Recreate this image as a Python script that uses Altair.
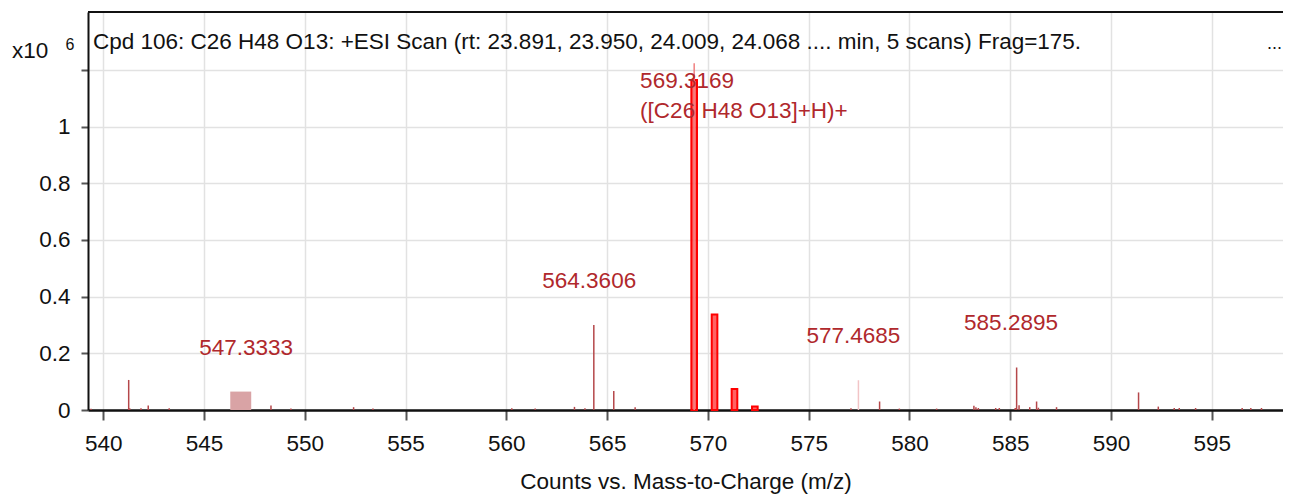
import altair as alt
import pandas as pd

FONT = "Liberation Sans"

# ---- data ----
peak_mz = [539.39, 541.26, 541.31, 541.87, 542.23, 543.27, 548.32, 549.31, 552.42, 553.38,
           560.27, 561.43, 563.38, 563.90, 564.34, 565.33, 566.39, 577.10, 578.52, 579.50,
           581.35, 583.20, 583.30, 583.42, 584.28, 584.46, 585.25, 585.32, 585.44, 585.97,
           586.31, 586.40, 587.30, 591.37, 592.35, 593.14, 593.39, 594.20, 596.51, 596.94, 597.47]
peak_int = [0.004, 0.106, 0.006, 0.006, 0.016, 0.006, 0.016, 0.005, 0.010, 0.005,
            0.006, 0.005, 0.011, 0.006, 0.300, 0.067, 0.010, 0.006, 0.030, 0.005,
            0.005, 0.015, 0.010, 0.007, 0.007, 0.007, 0.007, 0.150, 0.017, 0.010,
            0.030, 0.008, 0.010, 0.062, 0.012, 0.007, 0.007, 0.007, 0.007, 0.007, 0.007]

light_mz = [577.47]
light_int = [0.105]

iso_mz = [569.32, 570.33, 571.32, 572.33]
iso_int = [1.165, 0.337, 0.074, 0.012]
iso_halfwidth = 0.14

main_mz = [569.32]
main_int = [1.224]

region_start = [546.30]
region_end = [547.34]
region_int = [0.065]

label_mz = [547.3333, 564.3606, 577.4685, 585.2895]
label_int = [0.065, 0.300, 0.105, 0.150]
label_text = ["547.3333", "564.3606", "577.4685", "585.2895"]

main_label = ["569.3169", "([C26 H48 O13]+H)+"]

x_ticks = [540, 545, 550, 555, 560, 565, 570, 575, 580, 585, 590, 595]
y_ticks = [0, 0.2, 0.4, 0.6, 0.8, 1, 1.2]

title_text = "Cpd 106: C26 H48 O13: +ESI Scan (rt: 23.891, 23.950, 24.009, 24.068 .... min, 5 scans) Frag=175."

W, H = 1195, 398
X_DOM = [539.241, 539.241 + W / 20.153]
Y_DOM = [0, 1.4046]

xs = alt.Scale(domain=X_DOM, nice=False, zero=False)
ys = alt.Scale(domain=Y_DOM, nice=False, zero=True)

peaks = pd.DataFrame({"mz": peak_mz, "i": peak_int})
light = pd.DataFrame({"mz": light_mz, "i": light_int})
iso = pd.DataFrame({"mz": iso_mz, "i": iso_int})
main = pd.DataFrame({"mz": main_mz, "i": main_int})
region = pd.DataFrame({"a": region_start, "b": region_end, "i": region_int})
labels = pd.DataFrame({"mz": label_mz, "i": label_int, "t": label_text})
mainlab = pd.DataFrame({"mz": [569.3169], "i": main_int, "t": ["\n".join(main_label)]})

FS = 22.5

x_axis = alt.Axis(values=x_ticks, title="Counts vs. Mass-to-Charge (m/z)", grid=True,
                  gridColor="#e2e2e2", gridWidth=1.5, domainColor="#111111", domainWidth=2.5,
                  tickColor="#555555", tickWidth=2, tickSize=10, labelFontSize=FS, labelFont=FONT,
                  labelColor="#111111", labelPadding=12, titleFontSize=FS, titleFont=FONT,
                  titleFontWeight="normal", titleColor="#111111", titlePadding=16)
y_axis = alt.Axis(values=y_ticks, title=None, grid=True, gridColor="#e2e2e2", gridWidth=1.5,
                  domainColor="#111111", domainWidth=2, tickColor="#555555", tickWidth=2,
                  tickSize=7, labelFontSize=FS, labelFont=FONT, labelColor="#111111",
                  labelPadding=11, labelExpr="datum.value > 1.1 ? '' : '' + datum.value")

base_axes = alt.Chart(peaks).mark_rule(strokeWidth=1.5, color="#b5474a").encode(
    x=alt.X("mz:Q", scale=xs, axis=x_axis),
    y=alt.Y("i:Q", scale=ys, axis=y_axis),
    y2=alt.datum(0),
)

light_rules = alt.Chart(light).mark_rule(strokeWidth=1.5, color="#f2c4c6").encode(
    x=alt.X("mz:Q", scale=xs), y=alt.Y("i:Q", scale=ys), y2=alt.datum(0))

region_rect = alt.Chart(region).mark_rect(color="#d9a3a5").encode(
    x=alt.X("a:Q", scale=xs), x2="b:Q", y=alt.Y("i:Q", scale=ys), y2=alt.datum(0))

iso_rect = alt.Chart(iso).transform_calculate(
    a=f"datum.mz - {iso_halfwidth}", b=f"datum.mz + {iso_halfwidth}"
).mark_rect(fill="#ff3030", fillOpacity=0.75, stroke="#ff0000", strokeWidth=2).encode(
    x=alt.X("a:Q", scale=xs), x2="b:Q", y=alt.Y("i:Q", scale=ys), y2=alt.datum(0))

main_rule = alt.Chart(main).mark_rule(strokeWidth=1.5, color="#f08080").encode(
    x=alt.X("mz:Q", scale=xs), y=alt.Y("i:Q", scale=ys), y2=alt.datum(0))

label_layer = alt.Chart(labels).mark_text(font=FONT, fontSize=FS, color="#b0282c",
                                          align="center", baseline="middle", dx=-5, dy=-44).encode(
    x=alt.X("mz:Q", scale=xs), y=alt.Y("i:Q", scale=ys), text="t:N")

main_label_layer = alt.Chart(mainlab).mark_text(font=FONT, fontSize=FS, color="#b0282c",
                                                align="left", baseline="middle", dx=-54, dy=18,
                                                lineBreak="\n", lineHeight=30).encode(
    x=alt.X("mz:Q", scale=xs), y=alt.Y("i:Q", scale=ys), text="t:N")

anno = pd.DataFrame({"k": [0]})
top_border = alt.Chart(anno).mark_rule(color="#111111", strokeWidth=2).encode(
    x=alt.value(0), x2=alt.value(W), y=alt.value(0))
title_mark = alt.Chart(anno).mark_text(text=title_text, font=FONT, fontSize=FS, color="#111111",
                                       align="left", baseline="middle").encode(
    x=alt.value(5), y=alt.value(30))
dots_mark = alt.Chart(anno).mark_text(text="...", font=FONT, fontSize=18, color="#111111",
                                      align="right", baseline="middle").encode(
    x=alt.value(W - 1), y=alt.value(32))
x10_mark = alt.Chart(anno).mark_text(text="x10", font=FONT, fontSize=FS, color="#111111",
                                     align="left", baseline="middle").encode(
    x=alt.value(-76), y=alt.value(39))
exp_mark = alt.Chart(anno).mark_text(text="6", font=FONT, fontSize=16, color="#111111",
                                     align="center", baseline="middle").encode(
    x=alt.value(-18), y=alt.value(33))

chart = alt.layer(
    base_axes, light_rules, region_rect, iso_rect, main_rule,
    label_layer, main_label_layer, top_border, title_mark, dots_mark, x10_mark, exp_mark,
).properties(
    width=W, height=H,
    autosize=alt.AutoSizeParams(type="none"),
    padding={"left": 80, "top": 4, "right": 0, "bottom": 87},
).configure_view(stroke=None).configure(background="white")

chart.save("out.html", embed_options={"renderer": "svg", "actions": False})
